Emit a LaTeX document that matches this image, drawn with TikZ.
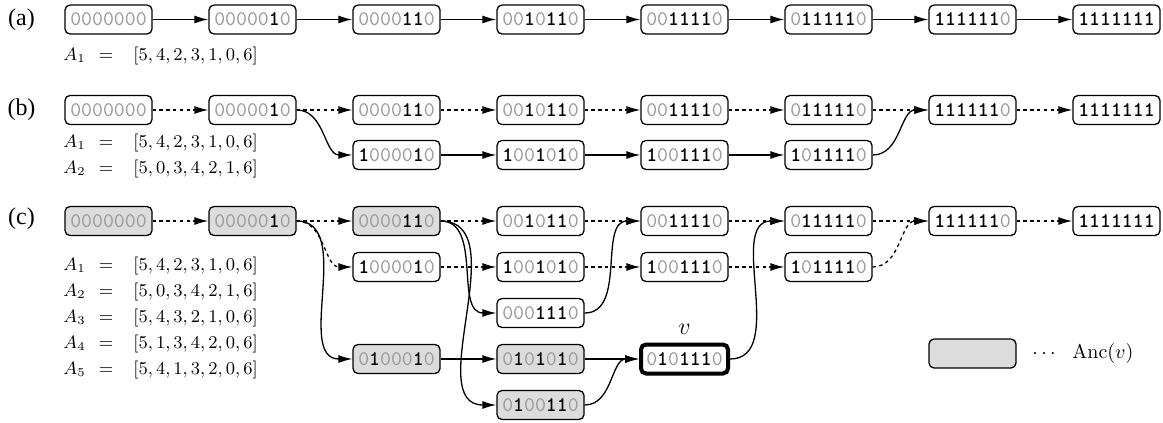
\documentclass[tikz,border=0pt]{standalone}
\usepackage{fontspec}
\usetikzlibrary{arrows.meta}
\newfontfamily\tagfont{Liberation Serif}
\definecolor{ancgray}{HTML}{DCDCDC}
\definecolor{zerogray}{HTML}{999999}

% bit strings: ones in black, zeros in grey
\makeatletter
\newcommand\bitstr[1]{\bit@loop#1\relax}
\def\bit@loop#1{\ifx\relax#1\else
  \ifx1#1{\bfseries\color{black}1}\else{\color{zerogray}0}\fi
  \expandafter\bit@loop\fi}
\makeatother

\tikzset{
  state/.style={draw, rounded corners=2.5pt, line width=0.65pt,
    minimum width=43.5pt, minimum height=14.5pt, inner sep=0pt, fill=white,
    font=\ttfamily\fontsize{10.4}{12}\selectfont},
  anc/.style={state, fill=ancgray},
  focus/.style={state, line width=2pt},
  link/.style={line width=0.65pt, -{Latex[length=7pt,width=4pt]}},
  weak/.style={link, dash pattern=on 1.7pt off 1.7pt},
  tag/.style={font=\tagfont\fontsize{12}{14}\selectfont, inner sep=0pt},
  eqtxt/.style={font=\fontsize{9}{11}\selectfont, inner sep=0pt, anchor=base west},
  eqsign/.style={font=\fontsize{9}{11}\selectfont, inner sep=0pt, anchor=base},
}

\begin{document}
\begin{tikzpicture}[x=0.5pt, y=-0.5pt]
\useasboundingbox (0,0) rectangle (1163,423);

% ---------------- (a) ----------------
\node[tag] (ta) at (21.5,20) {(a)};
\node[state] (a1) at (108.5,19.5) {\bitstr{0000000}};
\node[state] (a2) at (252.5,19.5) {\bitstr{0000010}};
\node[state] (a3) at (396.5,19.5) {\bitstr{0000110}};
\node[state] (a4) at (540.5,19.5) {\bitstr{0010110}};
\node[state] (a5) at (684.5,19.5) {\bitstr{0011110}};
\node[state] (a6) at (828.5,19.5) {\bitstr{0111110}};
\node[state] (a7) at (972.5,19.5) {\bitstr{1111110}};
\node[state] (a8) at (1116.5,19.5) {\bitstr{1111111}};
\foreach \i/\j in {1/2,2/3,3/4,4/5,5/6,6/7,7/8}
  \draw[link] (a\i) -- (a\j);

\node[eqtxt] (aA1) at (63,61) {$A_1$};
\node[eqsign] (aE1) at (106,61) {$=$};
\node[eqtxt] (aL1) at (133,61) {$[5,4,2,3,1,0,6]$};

% ---------------- (b) ----------------
\node[tag] (tb) at (21.5,110) {(b)};
\node[state] (b1) at (108.5,110) {\bitstr{0000000}};
\node[state] (b2) at (252.5,110) {\bitstr{0000010}};
\node[state] (b3) at (396.5,110) {\bitstr{0000110}};
\node[state] (b4) at (540.5,110) {\bitstr{0010110}};
\node[state] (b5) at (684.5,110) {\bitstr{0011110}};
\node[state] (b6) at (828.5,110) {\bitstr{0111110}};
\node[state] (b7) at (972.5,110) {\bitstr{1111110}};
\node[state] (b8) at (1116.5,110) {\bitstr{1111111}};
\node[state] (bb3) at (396.5,155) {\bitstr{1000010}};
\node[state] (bb4) at (540.5,155) {\bitstr{1001010}};
\node[state] (bb5) at (684.5,155) {\bitstr{1001110}};
\node[state] (bb6) at (828.5,155) {\bitstr{1011110}};
\foreach \i/\j in {1/2,2/3,3/4,4/5,5/6,6/7,7/8}
  \draw[weak] (b\i) -- (b\j);
\draw[link] (b2.east) to[out=0,in=180] (bb3.west);
\draw[link] (bb3) -- (bb4);
\draw[link] (bb4) -- (bb5);
\draw[link] (bb5) -- (bb6);
\draw[link] (bb6.east) to[out=0,in=180] (b7.west);

\node[eqtxt] (bA1) at (63,147) {$A_1$};
\node[eqsign] (bE1) at (106,147) {$=$};
\node[eqtxt] (bL1) at (133,147) {$[5,4,2,3,1,0,6]$};
\node[eqtxt] (bA2) at (63,173) {$A_2$};
\node[eqsign] (bE2) at (106,173) {$=$};
\node[eqtxt] (bL2) at (133,173) {$[5,0,3,4,2,1,6]$};

% ---------------- (c) ----------------
\node[tag] (tc) at (21.5,219) {(c)};
\node[anc] (c1) at (108.5,221) {\bitstr{0000000}};
\node[anc] (c2) at (252.5,221) {\bitstr{0000010}};
\node[anc] (c3) at (396.5,221) {\bitstr{0000110}};
\node[state] (c4) at (540.5,221) {\bitstr{0010110}};
\node[state] (c5) at (684.5,221) {\bitstr{0011110}};
\node[state] (c6) at (828.5,221) {\bitstr{0111110}};
\node[state] (c7) at (972.5,221) {\bitstr{1111110}};
\node[state] (c8) at (1116.5,221) {\bitstr{1111111}};
\node[state] (d3) at (396.5,267) {\bitstr{1000010}};
\node[state] (d4) at (540.5,267) {\bitstr{1001010}};
\node[state] (d5) at (684.5,267) {\bitstr{1001110}};
\node[state] (d6) at (828.5,267) {\bitstr{1011110}};
\node[state] (e4) at (540.5,313) {\bitstr{0001110}};
\node[anc] (f3) at (396.5,359) {\bitstr{0100010}};
\node[anc] (f4) at (540.5,359) {\bitstr{0101010}};
\node[focus] (f5) at (684.5,359) {\bitstr{0101110}};
\node[anc] (g4) at (540.5,405) {\bitstr{0100110}};
\node[inner sep=0pt, font=\fontsize{13}{15}\selectfont] (vlab) at (684.5,329) {$v$};

\foreach \i/\j in {1/2,2/3,3/4,4/5,5/6,6/7,7/8}
  \draw[weak] (c\i) -- (c\j);
\draw[weak] (c2.east) to[out=0,in=180] (d3.west);
\draw[link] (c2.east) to[out=0,in=180] (f3.west);
\draw[link] (c3.east) to[out=0,in=180] (e4.west);
\draw[link] (c3.east) to[out=0,in=180] (g4.west);
\draw[weak] (d3) -- (d4);
\draw[weak] (d4) -- (d5);
\draw[weak] (d5) -- (d6);
\draw[link] (f3) -- (f4);
\draw[link] (f4) -- (f5);
\draw[link] (e4.east) to[out=0,in=180] (c5.west);
\draw[link] (g4.east) to[out=0,in=180] (f5.west);
\draw[link] (f5.east) to[out=0,in=180] (c6.west);
\draw[weak] (d6.east) to[out=0,in=180] (c7.west);

\foreach \k/\perm [count=\n] in {270/{[5,4,2,3,1,0,6]},296/{[5,0,3,4,2,1,6]},
    322/{[5,4,3,2,1,0,6]},348/{[5,1,3,4,2,0,6]},374/{[5,4,1,3,2,0,6]}} {
  \node[eqtxt] (cA\n) at (63,\k) {$A_{\n}$};
  \node[eqsign] (cE\n) at (106,\k) {$=$};
  \node[eqtxt] (cL\n) at (133,\k) {$\perm$};
}

% legend
\node[anc] (key) at (972.5,353.5) {};
\node[inner sep=0pt, anchor=west, font=\fontsize{10}{12}\selectfont] (keytxt)
  at (1032,353.5) {$\cdots\ \ \mathrm{Anc}(v)$};
\end{tikzpicture}
\end{document}
